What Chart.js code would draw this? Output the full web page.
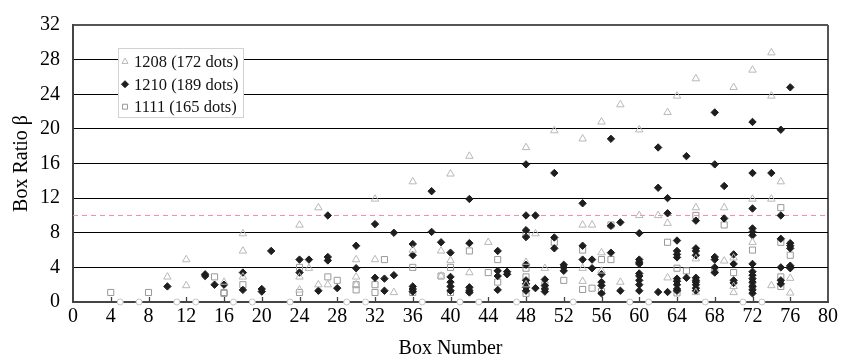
<!DOCTYPE html>
<html>
<head>
<meta charset="utf-8">
<script src="https://cdn.jsdelivr.net/npm/chart.js@4.4.0/dist/chart.umd.min.js"></script>
<style>
  body { margin: 0; background: #fff; }
  #wrap { width: 841px; height: 361px; }
</style>
</head>
<body>
<div id="wrap"><canvas id="grafica" width="841" height="361"></canvas></div>
<script>
const $grafica = document.querySelector("#grafica");

// [box number, box ratio] for each dot
const dots1208 = [
  [10, 2.9], [12, 4.9], [12, 1.9], [16, 2.3], [18, 7.9], [18, 5.9], [18, 2.9],
  [24, 8.9], [24, 2.9], [24, 1.4], [25, 3.9], [26, 10.9], [26, 2.0], [27, 2.0],
  [30, 4.9], [30, 2.9], [30, 2.0], [32, 11.9], [32, 4.9], [34, 1.1],
  [36, 13.9], [36, 6.0], [39, 5.9], [39, 3.0], [40, 14.8], [40, 4.8],
  [42, 16.85], [42, 3.4], [44, 6.9], [48, 17.85], [48, 4.6], [48, 2.0],
  [49, 7.9], [50, 3.9], [51, 19.8], [54, 18.85], [54, 8.9], [54, 3.9], [54, 2.4],
  [55, 8.9], [56, 20.8], [56, 5.7], [56, 3.6], [58, 22.8], [58, 2.3],
  [60, 19.9], [60, 10.0], [62, 10.0], [63, 21.9], [63, 9.1], [63, 2.8], [64, 23.8],
  [66, 25.8], [66, 10.9], [66, 5.0], [66, 1.1], [69, 10.9], [69, 4.75],
  [70, 24.8], [70, 5.1], [70, 1.8], [70, 1.1], [72, 26.8], [72, 11.9], [72, 6.9],
  [74, 28.8], [74, 23.8], [74, 11.9], [74, 1.9], [75, 13.9], [76, 2.75], [76, 1.05]
];
const dots1210 = [
  [10, 1.8], [14, 3.2], [14, 3.0], [15, 2.0], [16, 2.0], [18, 3.4], [18, 1.4],
  [20, 1.5], [20, 1.2], [21, 5.9], [24, 4.9], [24, 3.4], [25, 4.9], [26, 1.3],
  [27, 10.0], [27, 5.2], [27, 4.8], [28, 1.6], [30, 6.5], [30, 3.9],
  [32, 9.0], [32, 2.8], [33, 2.7], [33, 1.3], [34, 8.0], [34, 3.1],
  [36, 6.7], [36, 5.4], [36, 1.8], [36, 1.5], [36, 1.2], [38, 12.8], [38, 8.1], [39, 6.9],
  [40, 5.7], [40, 2.9], [40, 2.3], [40, 1.8], [40, 1.3],
  [42, 11.9], [42, 6.8], [42, 1.7], [42, 1.3], [42, 1.1],
  [45, 5.9], [45, 3.6], [45, 3.0], [45, 1.4], [46, 3.5], [46, 3.2],
  [48, 15.9], [48, 10.0], [48, 8.3], [48, 7.5], [48, 4.3], [48, 2.5], [48, 2.1], [48, 1.7], [48, 1.3],
  [49, 10.0], [49, 1.6], [50, 2.6], [50, 1.9], [50, 1.5], [50, 1.2],
  [51, 14.9], [51, 7.45], [51, 6.2], [52, 4.3], [52, 4.0], [52, 3.6],
  [54, 11.4], [54, 6.5], [54, 4.9], [55, 4.9], [55, 3.9],
  [56, 3.2], [56, 2.3], [56, 1.9], [56, 1.0], [57, 18.85], [57, 8.8], [57, 5.7],
  [58, 9.2], [58, 1.3],
  [60, 7.95], [60, 4.9], [60, 4.6], [60, 4.4], [60, 3.3], [60, 3.0], [60, 2.5], [60, 2.0], [60, 1.3],
  [62, 17.85], [62, 13.2], [62, 1.15], [63, 12.0], [63, 10.25], [63, 1.15],
  [64, 7.1], [64, 5.9], [64, 5.5], [64, 5.15], [64, 2.7], [64, 2.4], [64, 2.0], [64, 1.5], [64, 1.3],
  [65, 16.85], [65, 2.8],
  [66, 9.4], [66, 6.2], [66, 5.9], [66, 5.4], [66, 2.8], [66, 2.5], [66, 2.3], [66, 2.0], [66, 1.6], [66, 1.3],
  [68, 21.9], [68, 15.9], [68, 5.2], [68, 4.9], [68, 4.0], [68, 3.4],
  [69, 13.4], [69, 9.65], [70, 5.5], [70, 4.4], [70, 2.5], [70, 2.2],
  [72, 20.8], [72, 14.9], [72, 10.8], [72, 8.5], [72, 8.1], [72, 7.7], [72, 4.4], [72, 3.5],
  [72, 3.1], [72, 2.7], [72, 2.3], [72, 1.8], [72, 1.4], [72, 1.0],
  [74, 14.9], [75, 19.9], [75, 10.0], [75, 7.3], [75, 4.0], [75, 2.5], [75, 2.1],
  [76, 24.8], [76, 6.8], [76, 6.5], [76, 6.2], [76, 4.2], [76, 4.05], [76, 3.9]
];
const dots1111 = [
  [4, 1.1], [8, 1.1], [15, 2.9], [16, 1.1], [16, 1.0], [18, 2.0], [24, 4.0], [24, 1.1],
  [27, 2.9], [28, 2.5], [30, 2.0], [30, 1.4], [32, 2.0], [32, 1.1], [33, 4.9],
  [36, 4.0], [36, 1.1], [39, 3.0], [40, 4.0], [40, 1.1], [42, 5.9], [42, 1.3],
  [44, 3.4], [45, 4.9], [45, 2.3], [48, 7.9], [48, 3.9], [48, 2.9], [48, 1.0],
  [50, 2.0], [51, 6.9], [52, 2.5], [54, 6.0], [54, 1.45], [55, 1.6], [56, 4.9], [56, 1.2],
  [57, 8.9], [57, 4.9], [63, 6.9], [64, 3.9], [64, 1.05], [65, 3.6], [66, 10.0],
  [68, 3.6], [69, 8.9], [70, 3.4], [72, 6.0], [72, 2.1], [72, 1.6],
  [75, 10.9], [75, 6.9], [75, 2.9], [75, 1.8], [76, 5.4]
];
// boxes with no dots, marked by small circles on the axis
const cajasVacias = [5, 7, 11, 13, 17, 19, 23, 29, 31, 37, 41, 43, 47, 53, 59, 61, 67, 71, 73];
const limiteBeta = 10;
const etiquetas = ["1208 (172 dots)", "1210 (189 dots)", "1111 (165 dots)"];
const ticksX = [0, 4, 8, 12, 16, 20, 24, 28, 32, 36, 40, 44, 48, 52, 56, 60, 64, 68, 72, 76, 80];
const ticksY = [0, 4, 8, 12, 16, 20, 24, 28, 32];

const aPuntos = arr => arr.map(([x, y]) => ({ x, y }));
const fuente = '"Liberation Serif", "Times New Roman", serif';

// inner tick marks on the x axis + boxed legend
const marcasYLeyenda = {
  id: 'marcasYLeyenda',
  beforeDatasetsDraw(chart) {
    const { ctx, chartArea } = chart;
    const x = chart.scales.x;
    ctx.save();
    ctx.strokeStyle = '#444';
    ctx.lineWidth = 1.3;
    ticksX.slice(1, -1).forEach(v => {
      const px = Math.round(x.getPixelForValue(v)) + 0.5;
      ctx.beginPath();
      ctx.moveTo(px, chartArea.bottom);
      ctx.lineTo(px, chartArea.bottom - 5);
      ctx.stroke();
    });
    ctx.restore();
  },
  afterDraw(chart) {
    const { ctx, chartArea } = chart;
    const left = chartArea.left + 45, top = chartArea.top + 23;
    ctx.save();
    ctx.fillStyle = '#fff';
    ctx.fillRect(left, top, 125, 69);
    ctx.strokeStyle = '#d2d2d2';
    ctx.lineWidth = 1;
    ctx.strokeRect(left + 0.5, top + 0.5, 125, 69);
    ctx.font = '16.5px ' + fuente;
    ctx.textBaseline = 'middle';
    for (let i = 0; i < 3; i++) {
      const ds = chart.data.datasets[i];
      const y = top + 13.7 + i * 22.5;
      ctx.fillStyle = ds.backgroundColor;
      ctx.strokeStyle = ds.borderColor;
      ctx.lineWidth = 1;
      Chart.helpers.drawPoint(ctx, { pointStyle: ds.pointStyle, radius: 3.5, borderWidth: 1, rotation: 0 }, left + 7, y);
      ctx.fillStyle = '#111';
      ctx.fillText(etiquetas[i], left + 16, y + 1);
    }
    ctx.restore();
  }
};

new Chart($grafica, {
  type: 'scatter',
  data: {
    datasets: [
      {
        label: etiquetas[0], data: aPuntos(dots1208), pointStyle: 'triangle', pointRadius: 4.3,
        backgroundColor: 'rgba(0,0,0,0)', borderColor: '#b8b8b8', borderWidth: 1
      },
      {
        label: etiquetas[1], data: aPuntos(dots1210), pointStyle: 'rectRot', pointRadius: 3.7,
        backgroundColor: '#1e1e1e', borderColor: '#1e1e1e', borderWidth: 1
      },
      {
        label: etiquetas[2], data: aPuntos(dots1111), pointStyle: 'rect', pointRadius: 4.3,
        backgroundColor: 'rgba(0,0,0,0)', borderColor: '#999', borderWidth: 1
      },
      {
        label: 'empty', data: cajasVacias.map(x => ({ x, y: 0 })), pointStyle: 'circle', pointRadius: 3,
        backgroundColor: '#fff', borderColor: '#c4c4c4', borderWidth: 1, clip: false
      },
      {
        type: 'line', label: 'limit', data: [{ x: ticksX[0], y: limiteBeta }, { x: ticksX[ticksX.length - 1], y: limiteBeta }],
        borderColor: '#f58aa6', borderWidth: 1, borderDash: [5, 4], pointRadius: 0, order: 10
      }
    ]
  },
  options: {
    responsive: false,
    animation: false,
    layout: { padding: { left: 0, top: 16, right: 11, bottom: 0 } },
    plugins: { legend: { display: false }, tooltip: { enabled: false } },
    scales: {
      x: {
        type: 'linear', min: ticksX[0], max: ticksX[ticksX.length - 1],
        afterFit: s => { s.height = 59; },
        afterBuildTicks: s => { s.ticks = ticksX.map(v => ({ value: v })); },
        ticks: { autoSkip: false, maxRotation: 0, padding: 3, color: '#000', font: { family: fuente, size: 20 } },
        grid: {
          drawTicks: false,
          color: c => c.tick && c.tick.value === 80 ? '#555' : 'rgba(0,0,0,0)',
          lineWidth: 2
        },
        border: { color: '#444', width: 2 },
        title: { display: true, text: 'Box Number', color: '#000', padding: { top: 0, bottom: 0 }, font: { family: fuente, size: 20 } }
      },
      y: {
        min: ticksY[0], max: ticksY[ticksY.length - 1],
        afterFit: s => { s.width = 73; },
        afterBuildTicks: s => { s.ticks = ticksY.map(v => ({ value: v })); },
        ticks: { padding: 13, color: '#000', font: { family: fuente, size: 20 } },
        grid: {
          drawTicks: false,
          color: c => c.tick.value === 0 ? 'rgba(0,0,0,0)' : (c.tick.value === 32 ? '#555' : '#000'),
          lineWidth: c => c.tick.value === 32 ? 2 : 1
        },
        border: { color: '#444', width: 2 },
        title: { display: true, text: 'Box Ratio β', color: '#000', padding: { top: 10, bottom: 0 }, font: { family: fuente, size: 20 } }
      }
    }
  },
  plugins: [marcasYLeyenda]
});
</script>
</body>
</html>
